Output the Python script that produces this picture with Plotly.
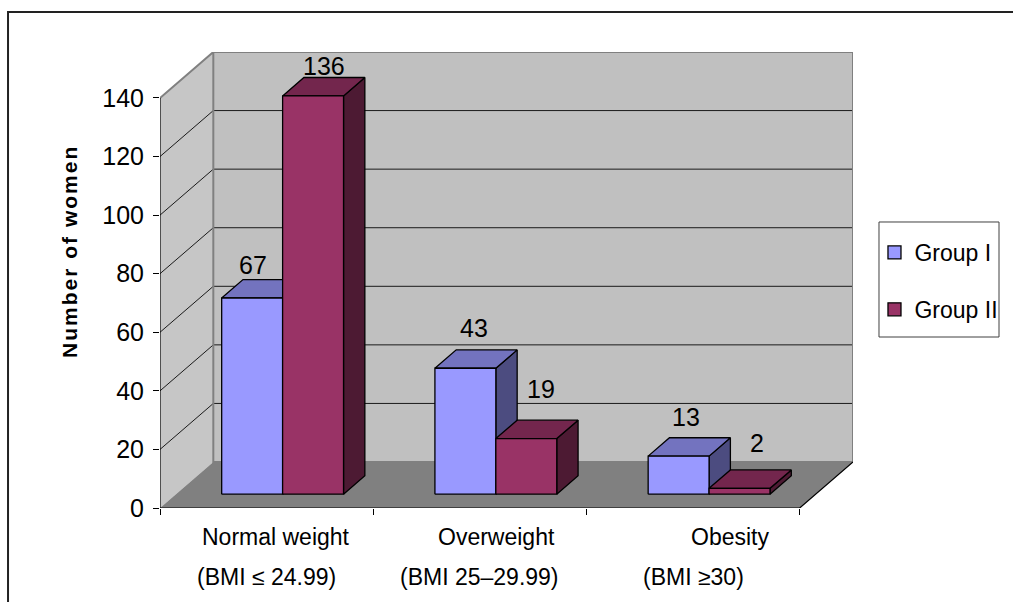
import plotly.graph_objects as go

# ---- data -------------------------------------------------------------
categories = ["Normal weight", "Overweight", "Obesity"]
bmi_ranges = ["(BMI ≤ 24.99)", "(BMI 25–29.99)", "(BMI ≥30)"]
series_names = ["Group I", "Group II"]
group_1 = [67, 43, 13]
group_2 = [136, 19, 2]
y_ticks = [0, 20, 40, 60, 80, 100, 120, 140]
y_title = "Number of women"

series_values = [group_1, group_2]

# ---- styling ------------------------------------------------------------
FONT = "Liberation Sans, Arial, sans-serif"
# front / top / side shades of each series
shades = [
    ("#9999FF", "#7373BF", "#4C4C80"),
    ("#993366", "#73264D", "#4D1A33"),
]
WALL_BACK = "#C0C0C0"
WALL_SIDE = "#C6C6C6"
FLOOR = "#808080"
EDGE = "#808080"

# oblique projection of the depth axis, expressed in data units
DX = 0.25            # horizontal shift of the back plane (category units)
DY = 15.7            # vertical shift of the back plane (value units)
WALL_TOP = y_ticks[-1]
N_CAT = len(categories)

GAP = 1.5                         # gap width 150 %
BAR_W = 1.0 / (len(series_names) + GAP)
BAR_FRONT = 0.3                   # depth fraction of the bar fronts
BAR_DEPTH = 0.4                   # depth fraction occupied by a bar

# small nudges for label placement (pixels)
label_dx = [[-10, -2, -3], [0, 4, 7]]
label_dy = [[24, 31, 30], [21, 40, 36]]
cat_line1_shift = [9, 17, 37]

fig = go.Figure()


def poly(xs, ys, fill, line_color=None, line_width=0):
    fig.add_trace(go.Scatter(
        x=list(xs) + [xs[0]], y=list(ys) + [ys[0]],
        mode="lines", fill="toself", fillcolor=fill,
        line=dict(color=line_color or fill, width=line_width),
        hoverinfo="skip", showlegend=False,
    ))


def seg(xs, ys, color, width=1):
    fig.add_trace(go.Scatter(
        x=xs, y=ys, mode="lines",
        line=dict(color=color, width=width),
        hoverinfo="skip", showlegend=False,
    ))


# side wall, back wall, floor
poly([0, 0, DX, DX], [0, WALL_TOP, WALL_TOP + DY, DY], WALL_SIDE)
poly([DX, N_CAT + DX, N_CAT + DX, DX], [DY, DY, WALL_TOP + DY, WALL_TOP + DY], WALL_BACK)
poly([0, N_CAT, N_CAT + DX, DX], [0, 0, DY, DY], FLOOR)

# gridlines on the back and side walls
for v in y_ticks[1:-1]:
    seg([DX, N_CAT + DX], [v + DY, v + DY], "#1a1a1a", 1)
    seg([0, DX], [v, v + DY], "#1a1a1a", 1)

# wall edges
seg([0, DX, N_CAT + DX, N_CAT + DX, DX, DX],
    [WALL_TOP, WALL_TOP + DY, WALL_TOP + DY, DY, DY, WALL_TOP + DY], EDGE, 2)

# floor front/right edges and value axis line
seg([0, N_CAT, N_CAT + DX], [0, 0, DY], "#000000", 1.2)
seg([0, 0], [0, WALL_TOP], "#000000", 1.2)

# 3-D bars, painted left to right
fx, fy = BAR_FRONT * DX, BAR_FRONT * DY
bx, by = (BAR_FRONT + BAR_DEPTH) * DX, (BAR_FRONT + BAR_DEPTH) * DY
mid = BAR_FRONT + BAR_DEPTH / 2
for c in range(N_CAT):
    for s, values in enumerate(series_values):
        v = values[c]
        x0 = c + GAP / 2 * BAR_W + s * BAR_W
        x1 = x0 + BAR_W
        front, top, side = shades[s]
        poly([x1 + fx, x1 + bx, x1 + bx, x1 + fx],
             [fy, by, v + by, v + fy], side, "#000000", 1.3)
        poly([x0 + fx, x1 + fx, x1 + bx, x0 + bx],
             [v + fy, v + fy, v + by, v + by], top, "#000000", 1.3)
        poly([x0 + fx, x1 + fx, x1 + fx, x0 + fx],
             [fy, fy, v + fy, v + fy], front, "#000000", 1.3)

        fig.add_annotation(
            x=x0 + BAR_W / 2 + mid * DX, y=v + mid * DY,
            text=str(v), showarrow=False, yanchor="middle",
            xshift=label_dx[s][c], yshift=label_dy[s][c],
            font=dict(family=FONT, size=25, color="#000000"),
        )

# legend entries
for s, name in enumerate(series_names):
    fig.add_trace(go.Scatter(
        x=[None], y=[None], mode="markers", name=name,
        legendgroup=name,
        marker=dict(symbol="square", size=13, color=shades[s][0],
                    line=dict(color="#000000", width=1.3)),
    ))

# legend frame
fig.add_shape(
    type="rect", xref="paper", yref="paper",
    x0=1.0375, x1=1.2107, y0=0.375, y1=0.6272,
    line=dict(color="#404040", width=1), fillcolor="#FFFFFF",
    layer="below",
)

# category labels (two lines each)
for c in range(N_CAT):
    fig.add_annotation(
        x=c + 0.5, y=-0.064, xref="x", yref="paper",
        text=categories[c], showarrow=False, yanchor="middle",
        xshift=cat_line1_shift[c],
        font=dict(family=FONT, size=23, color="#000000"),
    )
    fig.add_annotation(
        x=c + 0.5, y=-0.152, xref="x", yref="paper",
        text=bmi_ranges[c], showarrow=False, yanchor="middle",
        font=dict(family=FONT, size=23, color="#000000"),
    )

# value-axis title
fig.add_annotation(
    x=-0.13, y=0.5636, xref="paper", yref="paper",
    text="<b>" + y_title + "</b>", showarrow=False, textangle=-90,
    xanchor="center", yanchor="middle",
    font=dict(family=FONT, size=21, color="#000000"),
)

# outer frame
fig.add_shape(
    type="rect", xref="paper", yref="paper",
    x0=-0.2193, x1=1.26, y0=-0.25, y1=1.0877,
    line=dict(color="#222222", width=2), fillcolor="rgba(0,0,0,0)",
    layer="below",
)

fig.update_layout(
    width=1013, height=602,
    margin=dict(l=160, r=160, t=52, b=94, autoexpand=False),
    paper_bgcolor="#FFFFFF", plot_bgcolor="rgba(0,0,0,0)",
    font=dict(family=FONT, color="#000000"),
    showlegend=True,
    legend=dict(
        x=1.031, y=0.6075, xanchor="left", yanchor="top",
        borderwidth=0, bgcolor="rgba(0,0,0,0)",
        font=dict(family=FONT, size=23, color="#000000"),
        traceorder="grouped", tracegroupgap=24, itemwidth=30,
    ),
    xaxis=dict(
        range=[0, N_CAT + DX], tickvals=list(range(N_CAT + 1)),
        showticklabels=False, ticks="outside", ticklen=6,
        tickcolor="#000000", showgrid=False, zeroline=False,
        showline=False, fixedrange=True,
    ),
    yaxis=dict(
        range=[0, WALL_TOP + DY], tickvals=y_ticks,
        ticks="outside", ticklen=6, tickcolor="#000000",
        tickfont=dict(family=FONT, size=25, color="#000000"),
        ticklabelstandoff=4,
        showgrid=False, zeroline=False, showline=False, fixedrange=True,
    ),
)

spacing_js = """
var gd = document.getElementById('{plot_id}');
gd.querySelectorAll('text.annotation-text').forEach(function (t) {
  if (t.textContent === 'Number of women') { t.style.letterSpacing = '2px'; }
});
"""

fig.write_html("out.html", post_script=spacing_js)
